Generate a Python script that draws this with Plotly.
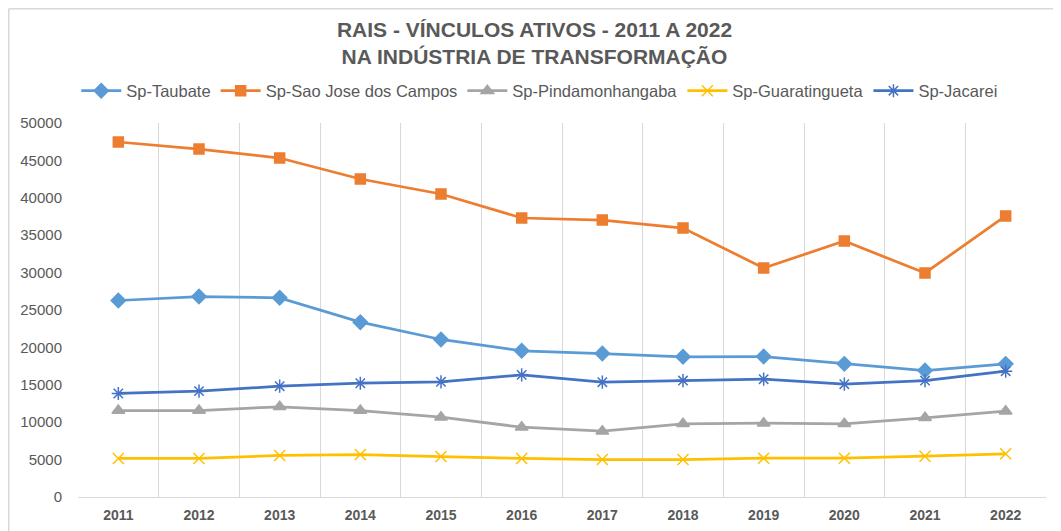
import plotly.graph_objects as go

years = ["2011", "2012", "2013", "2014", "2015", "2016", "2017", "2018", "2019", "2020", "2021", "2022"]
taubate = [26270, 26800, 26630, 23370, 21060, 19550, 19180, 18740, 18780, 17800, 16910, 17800]
sjc = [47460, 46520, 45320, 42510, 40510, 37300, 37030, 35960, 30610, 34220, 29950, 37570]
pinda = [11560, 11560, 12060, 11560, 10670, 9330, 8800, 9790, 9870, 9790, 10590, 11470]
guara = [5150, 5150, 5550, 5680, 5410, 5150, 5010, 5010, 5190, 5190, 5460, 5780]
jacarei = [13840, 14150, 14810, 15210, 15400, 16330, 15350, 15570, 15750, 15080, 15570, 16820]

series = [
    ("Sp-Taubate", taubate, "#5B9BD5", "diamond", 11),
    ("Sp-Sao Jose dos Campos", sjc, "#ED7D31", "square", 10),
    ("Sp-Pindamonhangaba", pinda, "#A5A5A5", "triangle-up", 11),
    ("Sp-Guaratingueta", guara, "#FFC000", "x-thin-open", 11),
    ("Sp-Jacarei", jacarei, "#4472C4", "asterisk-open", 11),
]

# the page body adds an 8px offset; size the figure so the plot lands where the reference has it
W, H = 1053, 523
ML, MR, MT, MB = 70, 15, 115, 34
PW, PH = W - ML - MR, H - MT - MB

fig = go.Figure()
for name, vals, color, sym, size in series:
    fig.add_trace(go.Scatter(
        x=years, y=vals, name=name, mode="lines+markers",
        line=dict(color=color, width=2.75),
        marker=dict(symbol=sym, size=size, color=color, line=dict(color=color, width=1.5)),
    ))

fig.update_layout(
    width=W, height=H,
    margin=dict(l=ML, r=MR, t=MT, b=MB, autoexpand=False),
    paper_bgcolor="white", plot_bgcolor="white",
    font=dict(family="Liberation Sans, Arial, sans-serif", color="#595959"),
    title=dict(
        text="<b>RAIS - VÍNCULOS ATIVOS - 2011 A 2022<br>NA INDÚSTRIA DE TRANSFORMAÇÃO</b>",
        x=0.5, xanchor="center", y=0.945, yanchor="middle",
        font=dict(size=21, color="#595959"),
    ),
    legend=dict(
        orientation="h", x=0.477, xanchor="center", y=1 + (MT - 83) / PH, yanchor="middle",
        font=dict(size=16.5, color="#595959"), itemwidth=40,
    ),
    showlegend=True,
)
fig.update_xaxes(
    type="category", range=[-0.5, len(years) - 0.5], tickson="boundaries",
    showgrid=True, gridcolor="#D9D9D9", gridwidth=1,
    showline=True, linecolor="#D9D9D9", linewidth=1,
    ticks="", ticklabelstandoff=5, automargin=False,
    tickfont=dict(size=14, color="#595959", family="Liberation Sans, Arial, sans-serif", weight="bold"),
)
fig.update_yaxes(
    range=[0, 50000], dtick=5000, tickformat="d", showgrid=False, zeroline=False,
    showline=False, ticks="outside", ticklen=12, tickcolor="rgba(0,0,0,0)", automargin=False,
    tickfont=dict(size=15, color="#595959"),
)
# outer chart frame (top and left edges visible in the reference)
top = 1 + (MT - 0.75) / PH
left = (0.75 - ML) / PW
fig.add_shape(type="line", xref="paper", yref="paper", x0=left, x1=1 + MR / PW, y0=top, y1=top,
              line=dict(color="#D9D9D9", width=1.5))
fig.add_shape(type="line", xref="paper", yref="paper", x0=left, x1=left, y0=-MB / PH, y1=top,
              line=dict(color="#D9D9D9", width=1.5))

fig.write_html("out.html")
